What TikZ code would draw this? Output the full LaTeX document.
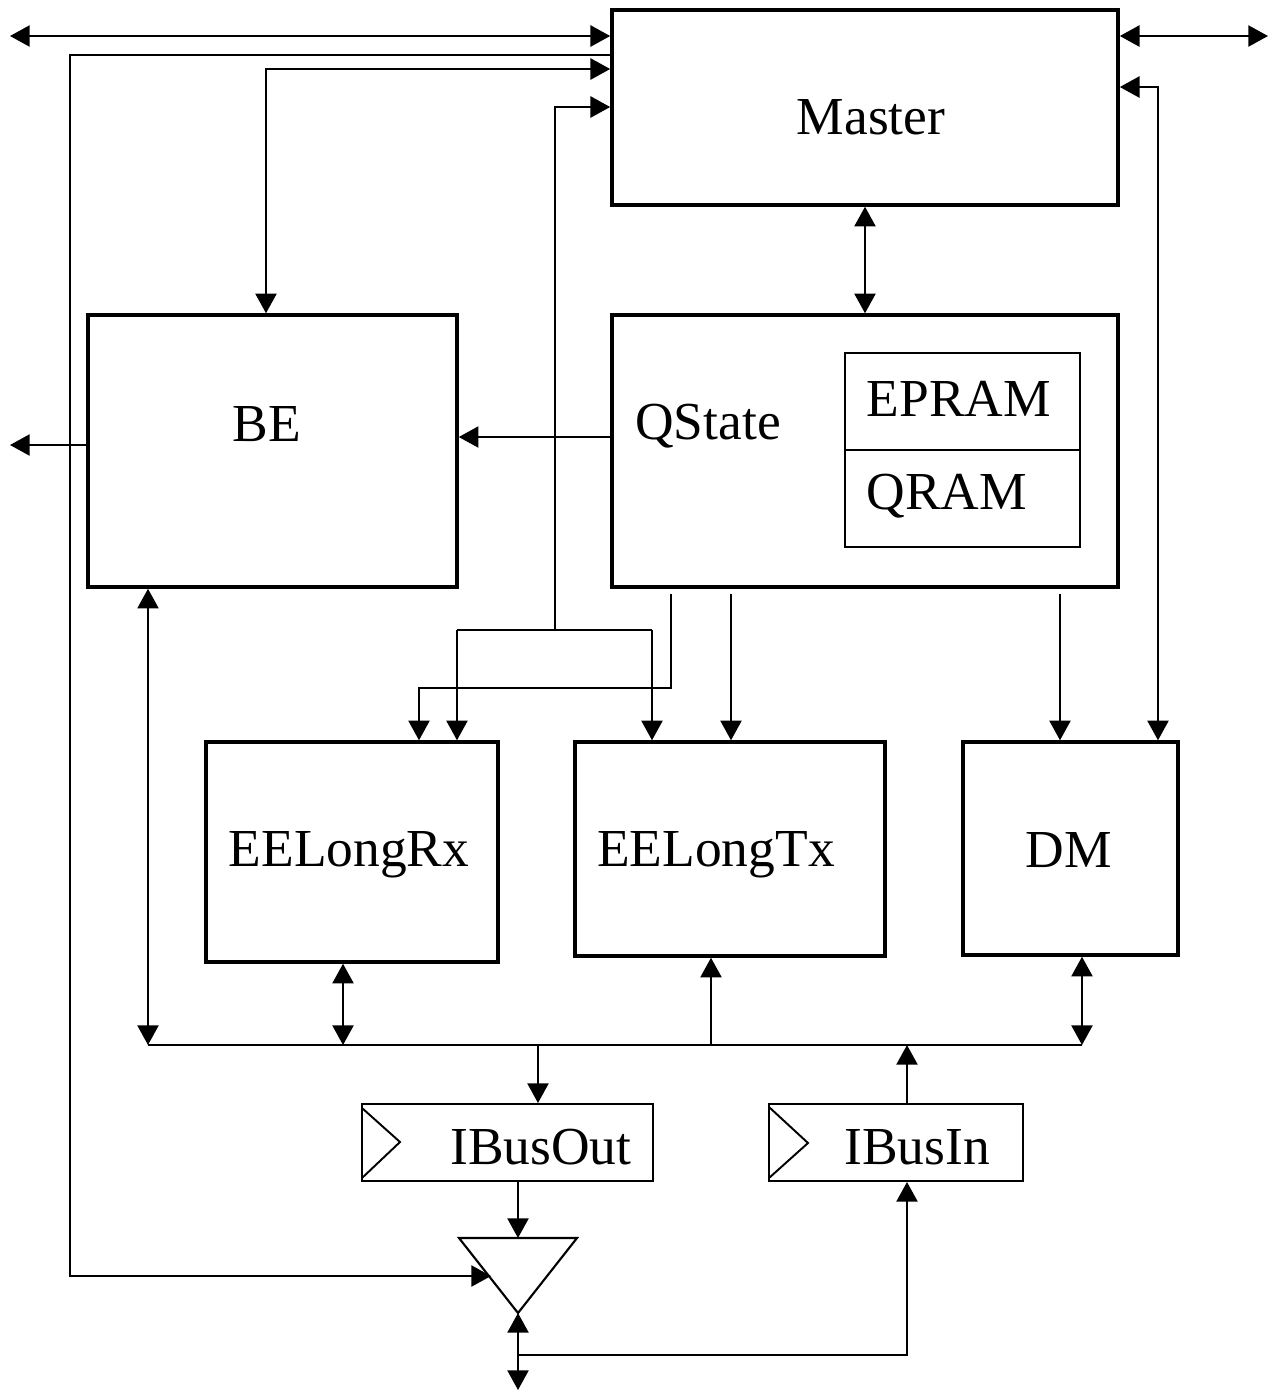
\documentclass[tikz,border=0pt]{standalone}
\usepackage{fontspec}
\setmainfont{Liberation Serif}
\usetikzlibrary{arrows.meta,calc}
\begin{document}
\begin{tikzpicture}[x=0.01cm,y=-0.01cm,
  box/.style={draw,line width=0.95pt,inner sep=0pt},
  thinbox/.style={draw,line width=0.55pt,inner sep=0pt},
  lbl/.style={font=\fontsize{15.2}{18}\selectfont,inner sep=0pt},
  plain/.style={line width=0.6pt},
  conn/.style={line width=0.6pt,-{Triangle[length=5.6pt,width=6pt]}},
  dbl/.style={line width=0.6pt,{Triangle[length=5.6pt,width=6pt]}-{Triangle[length=5.6pt,width=6pt]}}]
\useasboundingbox (0,0) rectangle (1276,1393);

% blocks
\node[box,minimum width=5.06cm,minimum height=1.95cm] (Master) at (865,107.5) {};
\node[lbl] (MasterT) at (871,117) {Master};
\node[box,minimum width=3.69cm,minimum height=2.72cm] (BE) at (272.5,451) {};
\node[lbl] (BET) at (267,424) {BE};
\node[box,minimum width=5.06cm,minimum height=2.72cm] (QState) at (865,451) {};
\node[lbl] (QStateT) at (708,426) {QState};
\node[thinbox,minimum width=2.35cm,minimum height=0.97cm] (EPRAM) at (962.5,401.5) {};
\node[lbl,anchor=west] (EPRAMT) at (866,399) {EPRAM};
\node[thinbox,minimum width=2.35cm,minimum height=0.97cm] (QRAM) at (962.5,498.5) {};
\node[lbl,anchor=west] (QRAMT) at (866,496) {QRAM};
\node[box,minimum width=2.92cm,minimum height=2.20cm] (EELongRx) at (352,852) {};
\node[lbl] (EELongRxT) at (349,855) {EELongRx};
\node[box,minimum width=3.10cm,minimum height=2.14cm] (EELongTx) at (730,849) {};
\node[lbl] (EELongTxT) at (716,855) {EELongTx};
\node[box,minimum width=2.15cm,minimum height=2.13cm] (DM) at (1070.5,848.5) {};
\node[lbl] (DMT) at (1069,850) {DM};
\node[thinbox,minimum width=2.91cm,minimum height=0.77cm] (IBusOut) at (507.5,1142.5) {};
\node[lbl] (IBusOutT) at (541,1147) {IBusOut};
\draw[line width=0.55pt] (362,1108) -- (400,1142) -- (362,1178);
\node[thinbox,minimum width=2.54cm,minimum height=0.77cm] (IBusIn) at (896,1142.5) {};
\node[lbl] (IBusInT) at (917,1147) {IBusIn};
\draw[line width=0.55pt] (769,1107) -- (808,1143) -- (769,1178);

% buffer triangle
\coordinate (tritop) at (518,1238);
\coordinate (tribot) at (518,1313);
\coordinate (triin) at (491,1276);
\draw[line width=0.6pt] (459,1238) -- (577,1238) -- (tribot) -- cycle;

% top connectors
\coordinate (TL) at (10,36);
\draw[dbl] (TL) -- (TL -| Master.west);
\coordinate (TR) at (1268,36);
\draw[dbl] (Master.east |- TR) -- (TR);
\coordinate (a2) at (70,55);
\coordinate (a2b) at (70,1276);
\draw[conn] (Master.west |- a2) -- (a2) -- (a2b) -- (triin);
\coordinate (a3) at (266,69);
\draw[dbl] (a3 |- BE.north) -- (a3) -- (a3 -| Master.west);
\coordinate (j4) at (555,630);
\coordinate (a4) at (555,107);
\draw[conn] (j4) -- (a4) -- (a4 -| Master.west);
\coordinate (b4l) at (457,630);
\coordinate (b4r) at (652,630);
\draw[plain] (b4l) -- (b4r);
\draw[conn] (b4l) -- (b4l |- EELongRx.north);
\draw[conn] (b4r) -- (b4r |- EELongTx.north);
\coordinate (c5) at (671,594);
\coordinate (c5a) at (671,688);
\coordinate (c5b) at (419,688);
\draw[conn] (c5) -- (c5a) -- (c5b) -- (c5b |- EELongRx.north);
\coordinate (c6) at (731,594);
\draw[conn] (c6) -- (c6 |- EELongTx.north);
\coordinate (c7) at (1060,594);
\draw[conn] (c7) -- (c7 |- DM.north);
\coordinate (d9) at (1158,87);
\draw[dbl] (Master.east |- d9) -- (d9) -- (d9 |- DM.north);
\draw[dbl] (Master.south) -- (QState.north);
\coordinate (e11) at (535,437);
\draw[conn] (QState.west |- e11) -- (BE.east |- e11);
\coordinate (f12) at (10,445);
\draw[conn] (BE.west |- f12) -- (f12);

% bus
\coordinate (busL) at (148,1045);
\coordinate (busR) at (1082,1045);
\draw[plain] (busL) -- (busR);
\draw[dbl] (busL) -- (busL |- BE.south);
\coordinate (g1) at (343,1045);
\draw[dbl] (g1) -- (g1 |- EELongRx.south);
\coordinate (g2) at (711,1045);
\draw[conn] (g2) -- (g2 |- EELongTx.south);
\draw[dbl] (busR) -- (busR |- DM.south);
\coordinate (g3) at (538,1045);
\draw[conn] (g3) -- (g3 |- IBusOut.north);
\coordinate (g4) at (907,1045);
\draw[conn] (g4 |- IBusIn.north) -- (g4);

% bottom
\draw[conn] (tritop |- IBusOut.south) -- (tritop);
\coordinate (bot) at (518,1390);
\draw[dbl] (tribot) -- (bot);
\coordinate (h1) at (518,1355);
\coordinate (h2) at (907,1355);
\draw[conn] (h1) -- (h2) -- (h2 |- IBusIn.south);
\end{tikzpicture}
\end{document}
